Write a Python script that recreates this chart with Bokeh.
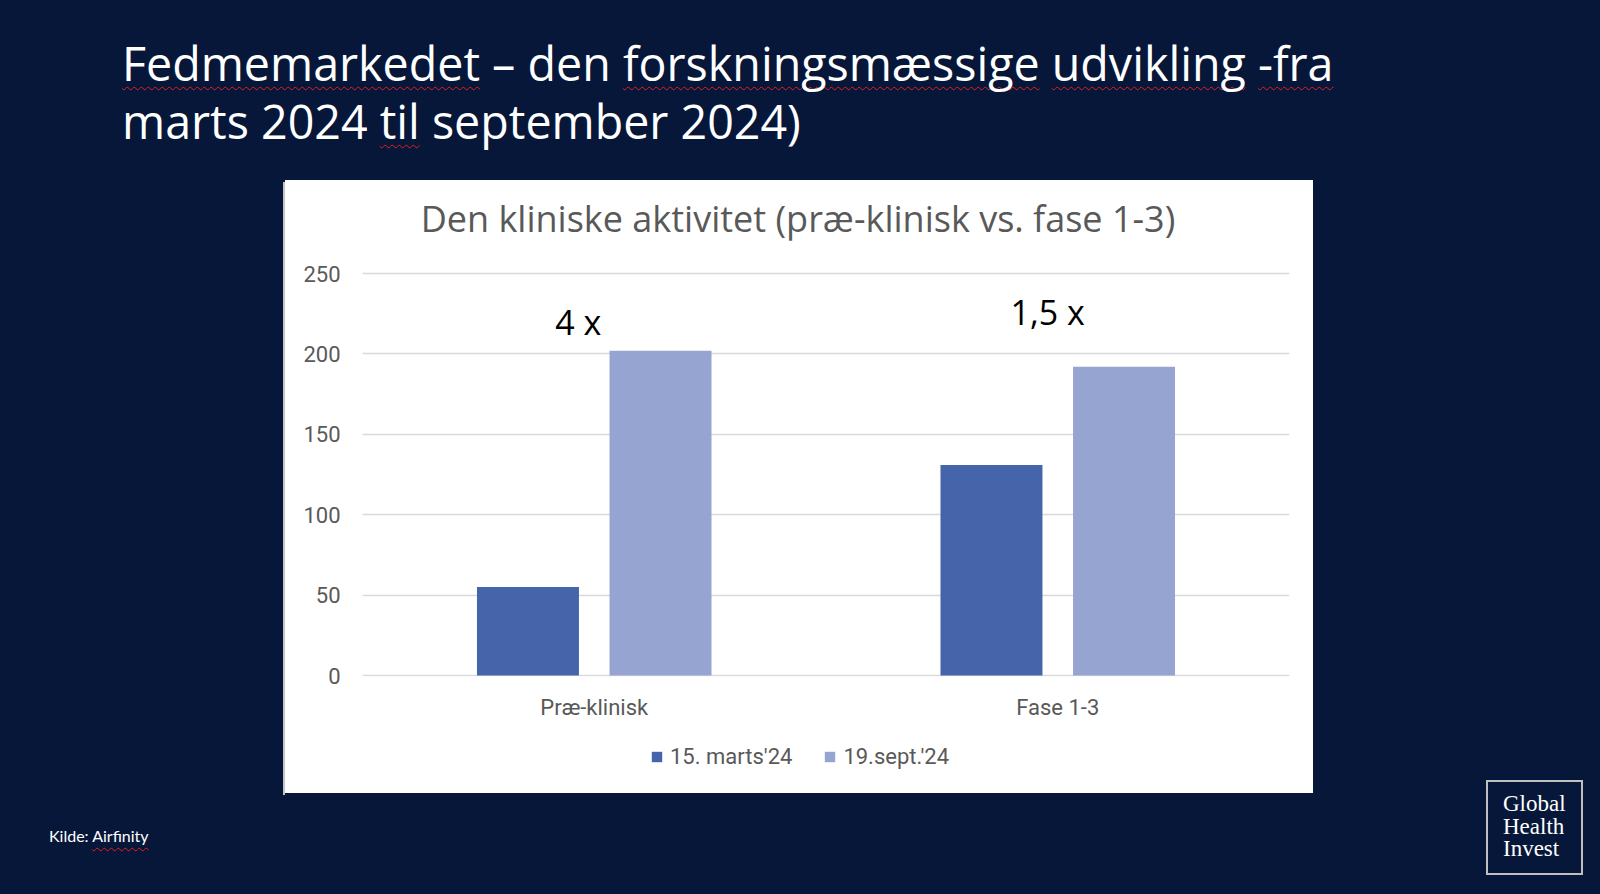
from bokeh.plotting import figure
from bokeh.models import (ColumnDataSource, FactorRange, Range1d, FixedTicker,
                          Legend, LegendItem, Div)
from bokeh.layouts import column, row
from bokeh.transform import dodge
from bokeh.core.properties import value
from bokeh.embed import file_html
from bokeh.resources import INLINE

# ---------------- data ----------------
categories = ["Præ-klinisk", "Fase 1-3"]
series_names = ["15. marts'24", "19.sept.'24"]
march_values = [55, 131]
sept_values = [202, 192]
y_ticks = [0, 50, 100, 150, 200, 250]
annot_texts = ["4 x", "1,5 x"]
annot_y = [220, 226]

slide_title_1 = ["Fedmemarkedet", " – den ", "forskningsmæssige", " ", "udvikling", " ", "-fra"]
slide_title_2 = ["marts 2024 ", "til", " september 2024)"]
flagged_words = {"Fedmemarkedet", "forskningsmæssige", "udvikling", "-fra", "til", "Airfinity"}
chart_title = "Den kliniske aktivitet (præ-klinisk vs. fase 1-3)"
source_text = ["Kilde: ", "Airfinity"]
logo_lines = ["Global", "Health", "Invest"]

# ---------------- styles ----------------
NAVY = "#061739"
DARK = "#4564AA"
LIGHT = "#95A4D1"
GRAY = "#595959"

CW = 1028          # card width
TITLE_H = 60       # chart title strip
MAIN_H = 486       # plot part of the card
LEG_H = 67         # legend strip of the card

src = ColumnDataSource(dict(cat=categories, march=march_values, sept=sept_values))

fig = figure(width=CW, height=MAIN_H, output_backend="svg", toolbar_location=None,
             x_range=FactorRange(*categories, range_padding=0),
             y_range=Range1d(-0.6, 251.3),
             min_border_left=77, min_border_right=24,
             min_border_top=31, min_border_bottom=50,
             border_fill_color="white", background_fill_color="white",
             outline_line_color=None, margin=0)

fig.vbar(x=dodge("cat", -0.143, range=fig.x_range), top="march", width=0.22,
         source=src, fill_color=DARK, line_color=None)
fig.vbar(x=dodge("cat", 0.143, range=fig.x_range), top="sept", width=0.22,
         source=src, fill_color=LIGHT, line_color=None)

fig.text(x=categories, y=annot_y, text=annot_texts,
         x_offset=[-16, -10],
         text_font=value("Open Sans"), text_font_size="34px",
         text_color="black", text_align="center", text_baseline="alphabetic")

fig.yaxis.ticker = FixedTicker(ticks=y_ticks)
for ax in (fig.xaxis[0], fig.yaxis[0]):
    ax.axis_line_color = None
    ax.major_tick_line_color = None
    ax.minor_tick_line_color = None
    ax.major_label_text_color = GRAY
    ax.major_label_text_font = "Roboto"
    ax.major_label_text_font_size = "22px"
fig.yaxis.major_label_standoff = 16
fig.xaxis.major_label_standoff = 12

fig.xgrid.grid_line_color = None
fig.ygrid.grid_line_color = "#d9d9d9"
fig.ygrid.grid_line_width = 1.5
fig.ygrid.ticker = FixedTicker(ticks=y_ticks)

# ---- legend strip (bottom of the white card) ----
lf = figure(width=CW, height=LEG_H, output_backend="svg", toolbar_location=None,
            x_range=Range1d(0, 1), y_range=Range1d(0, 1),
            x_axis_type=None, y_axis_type=None,
            min_border_left=0, min_border_right=0, min_border_top=0, min_border_bottom=0,
            border_fill_color="white", background_fill_color="white",
            outline_line_color=None, margin=0)
lf.xgrid.visible = False
lf.ygrid.visible = False
# legend swatches only (kept outside the strip's visible range)
k1 = lf.vbar(x=[-5], top=[-5], width=0.1, fill_color=DARK, line_color=None)
k2 = lf.vbar(x=[-5], top=[-5], width=0.1, fill_color=LIGHT, line_color=None)
legend = Legend(items=[LegendItem(label=series_names[0], renderers=[k1]),
                       LegendItem(label=series_names[1], renderers=[k2])],
                orientation="horizontal", location=(288, 24),
                glyph_width=13, glyph_height=13, label_standoff=7,
                label_height=25, spacing=31,
                padding=0, margin=0, border_line_color=None,
                background_fill_alpha=0,
                label_text_font="Roboto", label_text_font_size="22px",
                label_text_color=GRAY)
lf.add_layout(legend, "center")

title_strip = Div(
    text=('<div style="position:relative;width:1028px;height:60px;">'
          '<div style="position:absolute;left:513px;top:14px;transform:translateX(-50%);'
          f"color:{GRAY};font-family:'Open Sans';font-size:36px;line-height:49px;"
          f'white-space:nowrap;">{chart_title}</div></div>'),
    width=CW, height=TITLE_H, margin=0, styles={"background-color": "white"})

card = column(title_strip, fig, lf, spacing=0, margin=0,
              styles={"background-color": "white",
                      "box-shadow": "-2px 2px 0 #c4c4c4"})

# ---------------- page around the card ----------------
def mark(words):
    out = []
    for w in words:
        if w.strip() in flagged_words:
            out.append('<span style="text-decoration:underline wavy #e02020;'
                       'text-decoration-thickness:1px;text-underline-offset:5px;'
                       'text-decoration-skip-ink:none;">' + w + "</span>")
        else:
            out.append(w.replace(" ", "&nbsp;") if w.strip() == "" else w)
    return "".join(out)


title_html = (
    '<div style="position:relative;width:1600px;height:180px;">'
    '<div style="position:absolute;left:122px;top:34px;color:white;'
    "font-family:'Open Sans';font-size:46.6px;line-height:58px;white-space:nowrap;\">"
    f"{mark(slide_title_1)}<br>{mark(slide_title_2)}</div></div>"
)
top_div = Div(text=title_html, width=1600, height=180, margin=0,
              styles={"background-color": NAVY})

left_html = (
    '<div style="position:relative;width:285px;height:714px;">'
    '<div style="position:absolute;left:49px;top:646px;color:white;'
    "font-family:Lato;font-size:16px;line-height:19px;white-space:nowrap;\">"
    f"{mark(source_text)}</div></div>"
)
left_div = Div(text=left_html, width=285, height=714, margin=0,
               styles={"background-color": NAVY})

logo_html = (
    '<div style="position:relative;width:287px;height:714px;">'
    '<div style="position:absolute;left:173px;top:600px;width:97px;height:95px;'
    'box-sizing:border-box;border:2px solid #c0c0c0;padding:11px 0 0 15px;'
    "color:white;font-family:'Liberation Serif';font-size:23px;line-height:22.5px;\">"
    + "<br>".join(logo_lines) + "</div></div>"
)
right_div = Div(text=logo_html, width=287, height=714, margin=0,
                styles={"background-color": NAVY})

bottom_div = Div(text="", width=CW, height=714 - TITLE_H - MAIN_H - LEG_H, margin=0,
                 styles={"background-color": NAVY})

p = column(top_div,
           row(left_div, column(card, bottom_div, spacing=0, margin=0),
               right_div, spacing=0, margin=0),
           spacing=0, margin=0, width=1600, height=894,
           styles={"background-color": NAVY})

open("out.html", "w").write(file_html(p, INLINE))
